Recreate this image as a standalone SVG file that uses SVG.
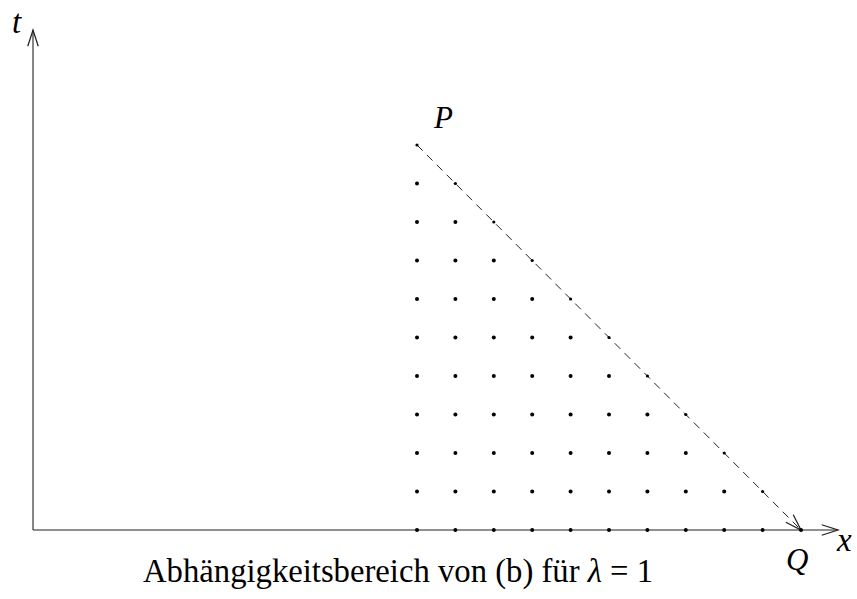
<svg xmlns="http://www.w3.org/2000/svg" width="857" height="599" viewBox="0 0 857 599">
<style>
.ax{stroke:#222;stroke-width:1.1;fill:none}
.dash{stroke:#222;stroke-width:1;fill:none;stroke-dasharray:8 6}
.d{fill:#000}
</style>
<defs>
<marker id="arr" markerUnits="userSpaceOnUse" markerWidth="20" markerHeight="20" viewBox="-14 -7 16 14" refX="0" refY="0" orient="auto" overflow="visible">
<path d="M-13,-4.2 L0,0 L-13,4.2" fill="none" stroke="#222" stroke-width="1" stroke-dasharray="none"/>
</marker>
</defs>
<rect width="857" height="599" fill="#fff"/>
<g id="connectors">
<line id="t-axis" class="ax" x1="33" y1="530" x2="33" y2="30" marker-end="url(#arr)"/>
<line id="x-axis" class="ax" x1="33" y1="530" x2="838" y2="530" marker-end="url(#arr)"/>
<line id="PQ" class="dash" x1="417" y1="145" x2="801" y2="530" marker-end="url(#arr)"/>
</g>
<g id="grid">
<g id="row0">
<circle class="d" cx="417" cy="530" r="2"/><circle class="d" cx="455.4" cy="530" r="2"/><circle class="d" cx="493.8" cy="530" r="2"/><circle class="d" cx="532.2" cy="530" r="2"/><circle class="d" cx="570.6" cy="530" r="2"/><circle class="d" cx="609" cy="530" r="2"/><circle class="d" cx="647.4" cy="530" r="2"/><circle class="d" cx="685.8" cy="530" r="2"/><circle class="d" cx="724.2" cy="530" r="2"/><circle class="d" cx="762.6" cy="530" r="2"/><circle class="d" cx="801" cy="530" r="2"/>
</g>
<g id="row1">
<circle class="d" cx="417" cy="491.5" r="2"/><circle class="d" cx="455.4" cy="491.5" r="2"/><circle class="d" cx="493.8" cy="491.5" r="2"/><circle class="d" cx="532.2" cy="491.5" r="2"/><circle class="d" cx="570.6" cy="491.5" r="2"/><circle class="d" cx="609" cy="491.5" r="2"/><circle class="d" cx="647.4" cy="491.5" r="2"/><circle class="d" cx="685.8" cy="491.5" r="2"/><circle class="d" cx="724.2" cy="491.5" r="2"/><circle class="d" cx="762.6" cy="491.5" r="1.6"/>
</g>
<g id="row2">
<circle class="d" cx="417" cy="453" r="2"/><circle class="d" cx="455.4" cy="453" r="2"/><circle class="d" cx="493.8" cy="453" r="2"/><circle class="d" cx="532.2" cy="453" r="2"/><circle class="d" cx="570.6" cy="453" r="2"/><circle class="d" cx="609" cy="453" r="2"/><circle class="d" cx="647.4" cy="453" r="2"/><circle class="d" cx="685.8" cy="453" r="2"/><circle class="d" cx="724.2" cy="453" r="1.6"/>
</g>
<g id="row3">
<circle class="d" cx="417" cy="414.5" r="2"/><circle class="d" cx="455.4" cy="414.5" r="2"/><circle class="d" cx="493.8" cy="414.5" r="2"/><circle class="d" cx="532.2" cy="414.5" r="2"/><circle class="d" cx="570.6" cy="414.5" r="2"/><circle class="d" cx="609" cy="414.5" r="2"/><circle class="d" cx="647.4" cy="414.5" r="2"/><circle class="d" cx="685.8" cy="414.5" r="1.6"/>
</g>
<g id="row4">
<circle class="d" cx="417" cy="376" r="2"/><circle class="d" cx="455.4" cy="376" r="2"/><circle class="d" cx="493.8" cy="376" r="2"/><circle class="d" cx="532.2" cy="376" r="2"/><circle class="d" cx="570.6" cy="376" r="2"/><circle class="d" cx="609" cy="376" r="2"/><circle class="d" cx="647.4" cy="376" r="1.6"/>
</g>
<g id="row5">
<circle class="d" cx="417" cy="337.5" r="2"/><circle class="d" cx="455.4" cy="337.5" r="2"/><circle class="d" cx="493.8" cy="337.5" r="2"/><circle class="d" cx="532.2" cy="337.5" r="2"/><circle class="d" cx="570.6" cy="337.5" r="2"/><circle class="d" cx="609" cy="337.5" r="1.6"/>
</g>
<g id="row6">
<circle class="d" cx="417" cy="299" r="2"/><circle class="d" cx="455.4" cy="299" r="2"/><circle class="d" cx="493.8" cy="299" r="2"/><circle class="d" cx="532.2" cy="299" r="2"/><circle class="d" cx="570.6" cy="299" r="1.6"/>
</g>
<g id="row7">
<circle class="d" cx="417" cy="260.5" r="2"/><circle class="d" cx="455.4" cy="260.5" r="2"/><circle class="d" cx="493.8" cy="260.5" r="2"/><circle class="d" cx="532.2" cy="260.5" r="1.6"/>
</g>
<g id="row8">
<circle class="d" cx="417" cy="222" r="2"/><circle class="d" cx="455.4" cy="222" r="2"/><circle class="d" cx="493.8" cy="222" r="1.6"/>
</g>
<g id="row9">
<circle class="d" cx="417" cy="183.5" r="2"/><circle class="d" cx="455.4" cy="183.5" r="1.6"/>
</g>
<g id="row10">
<circle class="d" cx="417" cy="145" r="1.6"/>
</g>
</g>
<g id="labels" font-family="Liberation Serif, DejaVu Serif, serif" fill="#000">
<text id="t-label" x="12" y="33" font-size="33" font-style="italic">t</text>
<text id="x-label" x="837" y="551" font-size="33" font-style="italic">x</text>
<text id="P-label" x="434" y="128" font-size="31" font-style="italic">P</text>
<text id="Q-label" x="786" y="570" font-size="31" font-style="italic">Q</text>
<text id="caption" x="398" y="582" font-size="33" text-anchor="middle" textLength="510" lengthAdjust="spacingAndGlyphs">Abhängigkeitsbereich von (b) für <tspan font-style="italic">λ</tspan> = 1</text>
</g>
</svg>
